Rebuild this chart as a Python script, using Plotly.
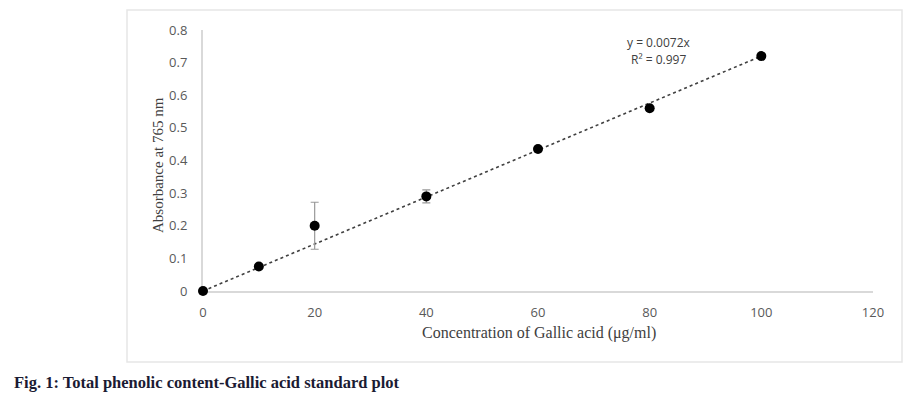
import plotly.graph_objects as go

concentration = [0, 10, 20, 40, 60, 80, 100]
absorbance = [0.0, 0.075, 0.200, 0.290, 0.435, 0.560, 0.720]
error = [0.0, 0.0, 0.072, 0.020, 0.0, 0.0, 0.0]
slope = 0.0072
r2 = 0.997
x_ticks = [0, 20, 40, 60, 80, 100, 120]
y_ticks = [0, 0.1, 0.2, 0.3, 0.4, 0.5, 0.6, 0.7, 0.8]

OFF = 8  # page body margin
W, H = 912 - OFF, 395 - OFF
L = 203 - OFF
T = 30 - OFF
R = W - (873 - OFF)
B = H - (291 - OFF)
pw, ph = W - L - R, H - T - B

def px(xp):
    return (xp - OFF - L) / pw

def py(yp):
    return (H - B - (yp - OFF)) / ph

fig = go.Figure()

trend_x = [concentration[0], concentration[-1]]
trend_y = [slope * v for v in trend_x]
fig.add_trace(go.Scatter(
    x=trend_x, y=trend_y, mode="lines",
    line=dict(color="#404040", width=1.6, dash="dot"),
    hoverinfo="skip", showlegend=False, cliponaxis=False,
))

fig.add_trace(go.Scatter(
    x=concentration, y=absorbance, mode="markers",
    marker=dict(color="black", size=10),
    error_y=dict(type="data", array=error, visible=True,
                 color="#999999", thickness=1.2, width=4),
    showlegend=False, cliponaxis=False,
))

tick_font = dict(family="Open Sans, Liberation Sans, sans-serif", size=13, color="#595959")

fig.update_xaxes(
    range=[0, 120], tickvals=x_ticks, ticktext=[str(v) for v in x_ticks],
    showgrid=False, zeroline=False, showline=True, linecolor="#d9d9d9", linewidth=2,
    ticks="", tickfont=tick_font, ticklabelstandoff=8, layer="below traces",
)
fig.update_yaxes(
    range=[0, 0.8], tickvals=y_ticks, ticktext=[("0" if v == 0 else f"{v:.1f}") for v in y_ticks],
    showgrid=False, zeroline=False, showline=True, linecolor="#d9d9d9", linewidth=2,
    ticks="", tickfont=tick_font, ticklabelstandoff=11, layer="below traces",
)

serif = "Liberation Serif, Times New Roman, serif"
eq_font = dict(family="Open Sans, sans-serif", size=12, color="#404040")

fig.add_annotation(
    x=px(539), y=py(333), xref="paper", yref="paper", xanchor="center", yanchor="middle",
    text="Concentration of Gallic acid (μg/ml)", showarrow=False,
    font=dict(family=serif, size=16, color="#404040"),
)
fig.add_annotation(
    x=px(158), y=py(165), xref="paper", yref="paper", xanchor="center", yanchor="middle",
    text="Absorbance at 765 nm", showarrow=False, textangle=-90,
    font=dict(family=serif, size=15, color="#404040"),
)
fig.add_annotation(
    x=px(659), y=py(43), xref="paper", yref="paper", xanchor="center", yanchor="middle",
    text=f"y = {slope}x", showarrow=False, font=eq_font, borderpad=0,
)
fig.add_annotation(
    x=px(658), y=py(60), xref="paper", yref="paper", xanchor="center", yanchor="middle",
    text=f"R² = {r2}", showarrow=False, font=eq_font, borderpad=0,
)
fig.add_annotation(
    x=px(12), y=py(383), xref="paper", yref="paper", xanchor="left", yanchor="middle",
    text="<b>Fig. 1: Total phenolic content-Gallic acid standard plot</b>", showarrow=False,
    font=dict(family=serif, size=16.5, color="#1b1b33"),
)

fig.add_shape(
    type="rect", xref="paper", yref="paper",
    x0=px(127), x1=px(902), y0=py(362), y1=py(10),
    line=dict(color="#e6e6e6", width=1.5), fillcolor="rgba(0,0,0,0)", layer="below",
)

fig.update_layout(
    width=W, height=H, margin=dict(l=L, r=R, t=T, b=B),
    plot_bgcolor="white", paper_bgcolor="white",
)

fig.write_html("out.html")
